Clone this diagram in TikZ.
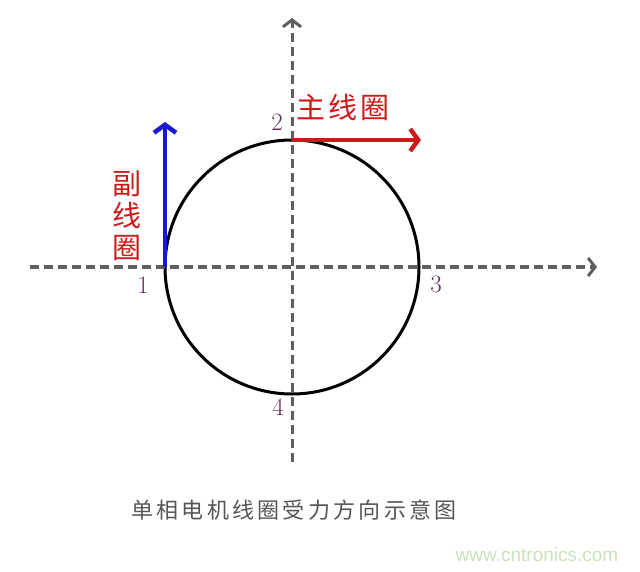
\documentclass[tikz,border=0pt]{standalone}
\usepackage{fontspec}
\newfontfamily\cjk{Noto Sans CJK SC}
\newfontfamily\websans{Liberation Sans}
\usepackage{xcolor}
\usetikzlibrary{arrows.meta,positioning}

\definecolor{axisgray}{RGB}{95,95,95}
\definecolor{forcered}{RGB}{205,25,25}
\definecolor{forceblue}{RGB}{25,25,205}
\definecolor{numcol}{RGB}{105,45,85}
\definecolor{capgray}{RGB}{85,85,85}
\definecolor{markgreen}{RGB}{200,226,186}

\begin{document}
\begin{tikzpicture}[
    x=1pt, y=-1pt,
    axis/.style={draw=axisgray, line width=3pt, dash pattern=on 9pt off 5pt, -{Straight Barb[length=7pt,width=18pt]}},
    coil/.style={circle, draw=black, line width=3pt, minimum size=254pt, inner sep=0pt, outer sep=0pt},
    force/.style={line width=4.5pt, -{Straight Barb[length=8pt,width=22pt]}},
    num/.style={font=\fontsize{25}{25}\selectfont, text=numcol, inner sep=0pt},
    coilname/.style={font=\cjk\fontsize{29}{32}\selectfont, text=forcered, inner sep=0pt, align=center}
]
\useasboundingbox (0,0) rectangle (640,572);

\node[coil] (coil) at (292,267) {};

% axes
\coordinate (xl) at (30,267);
\coordinate (xr) at (597,267);
\coordinate (yb) at (292,462);
\coordinate (yt) at (292,18);
\draw[axis] (xl) -- (xr);
\draw[axis] (yb) -- (yt);

% forces on the coil
\coordinate (mainend) at (421,140);
\coordinate (auxend) at (165,122);
\draw[force, forcered] (coil.north) -- (mainend);
\draw[force, forceblue] (coil.west) -- (auxend);

\node[coilname, font=\cjk\fontsize{29}{32}\selectfont\addfontfeature{LetterSpace=12}] (mainname) at (343,107) {主线圈};
\node[coilname] (auxname) at (127,216) {副\\线\\圈};

\node[num] (n1) at (143,285) {1};
\node[num] (n2) at (277,122) {2};
\node[num] (n3) at (436,284) {3};
\node[num] (n4) at (278,407) {4};

\node[font=\cjk\fontsize{22}{22}\selectfont\addfontfeature{LetterSpace=15}, text=capgray] (caption) at (294,510) {单相电机线圈受力方向示意图};
\node[font=\websans\fontsize{19}{19}\selectfont, text=markgreen, inner sep=0pt] (mark) at (537,555) {www.cntronics.com};

\end{tikzpicture}
\end{document}
